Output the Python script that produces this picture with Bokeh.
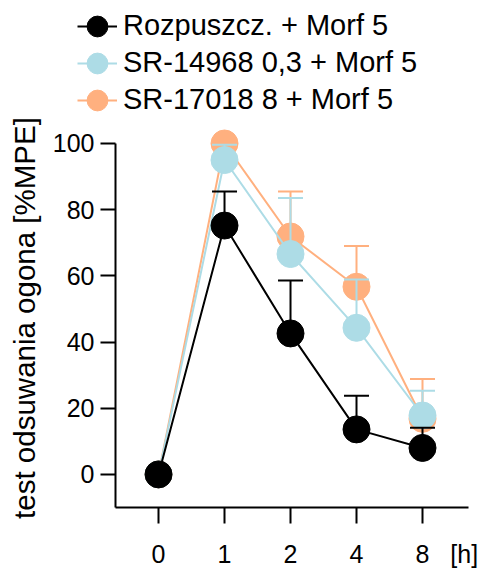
from bokeh.plotting import figure
from bokeh.layouts import column
from bokeh.models import Range1d, FixedTicker, Legend, LegendItem
from bokeh.embed import file_html
from bokeh.resources import INLINE

# ---- data ----
time_labels = ["0", "1", "2", "4", "8"]
time_unit = "[h]"
x_pos = [0, 1, 2, 3, 4]
y_ticks = [0, 20, 40, 60, 80, 100]
series_names = ["Rozpuszcz. + Morf 5", "SR-14968 0,3 + Morf 5", "SR-17018 8 + Morf 5"]
vehicle_mean = [0, 75.2, 42.6, 13.6, 8.0]
vehicle_sem = [0, 10.3, 16.0, 10.2, 6.1]
sr14968_mean = [0, 95.0, 66.6, 44.3, 17.8]
sr14968_sem = [0, 4.6, 16.9, 14.6, 7.5]
sr17018_mean = [0, 100.0, 71.9, 56.7, 16.8]
sr17018_sem = [0, 0.0, 13.6, 12.3, 12.0]
colors = ["#000000", "#ADDCE6", "#FFB07F"]

FONT = "Liberation Sans"
LEG_H = 116

means = [vehicle_mean, sr14968_mean, sr17018_mean]
sems = [vehicle_sem, sr14968_sem, sr17018_sem]

# ---------------- legend strip (own small figure) ----------------
lg = figure(width=489, height=LEG_H, output_backend="svg", toolbar_location=None,
            x_range=Range1d(1000, 1489), y_range=Range1d(0, LEG_H),
            x_axis_type=None, y_axis_type=None,
            min_border_left=0, min_border_right=0, min_border_top=0, min_border_bottom=0)
lg.outline_line_color = None
lg.xgrid.visible = False
lg.ygrid.visible = False
if hasattr(lg, "frame_align"):
    lg.frame_align = False

items = []
for i in range(3):
    c = colors[i]
    # same series drawn here only to provide the legend swatches (lies outside this strip's range)
    l_ln = lg.line(x_pos, means[i], line_color=c, line_width=2)
    l_el = lg.ellipse(x=x_pos, y=means[i], width=27, height=27,
                      width_units="screen", height_units="screen",
                      fill_color=c, line_color=c)
    items.append(LegendItem(label=series_names[i], renderers=[l_ln, l_el]))

legend = Legend(items=items, location=(77, 0), orientation="vertical",
                glyph_width=40, glyph_height=26, spacing=4, padding=0, margin=0,
                label_standoff=6, label_text_font=FONT, label_text_font_size="29px",
                label_text_color="black", border_line_color=None,
                background_fill_alpha=0)
lg.add_layout(legend)

# ---------------- main chart ----------------
p = figure(width=489, height=570 - LEG_H, output_backend="svg", toolbar_location=None,
           x_range=Range1d(-0.652, 4.697), y_range=Range1d(-10, 104.53),
           min_border_left=115, min_border_right=21, min_border_top=12,
           min_border_bottom=63)
p.outline_line_color = None
p.xgrid.visible = False
p.ygrid.visible = False
p.background_fill_color = "white"
if hasattr(p, "frame_align"):
    p.frame_align = False

# draw order: orange, blue, black (black on top)
for idx in [2, 1, 0]:
    m = means[idx]
    s = sems[idx]
    c = colors[idx]
    upper = [a + b for a, b in zip(m, s)]
    p.line(x_pos, m, line_color=c, line_width=2)
    p.segment(x0=x_pos, y0=m, x1=x_pos, y1=upper, line_color=c, line_width=2)
    p.scatter(x_pos, upper, marker="dash", size=25, line_color=c, line_width=2)
    p.scatter(x_pos, m, size=27, fill_color=c, line_color=c)

# x axis; the last tick label also carries the unit "[h]" to its right
NB = "\u00a0"
x_labels = list(time_labels)
x_labels[-1] = NB * 7 + time_labels[-1] + NB * 3 + time_unit
xa = p.xaxis[0]
xa.ticker = FixedTicker(ticks=x_pos)
xa.major_label_overrides = {x: lab for x, lab in zip(x_pos, x_labels)}
xa.major_tick_in = 0
xa.major_tick_out = 16
xa.major_label_standoff = 16
xa.minor_tick_line_color = None

# y axis
ya = p.yaxis[0]
ya.ticker = FixedTicker(ticks=y_ticks)
ya.bounds = (-10, 100)
ya.major_tick_in = 0
ya.major_tick_out = 15
ya.major_label_standoff = 6
ya.minor_tick_line_color = None
ya.axis_label = "test odsuwania ogona [%MPE]"
ya.axis_label_standoff = 9
ya.axis_label_text_font = FONT
ya.axis_label_text_font_size = "29.5px"
ya.axis_label_text_font_style = "normal"
ya.axis_label_text_color = "black"

for ax in [xa, ya]:
    ax.axis_line_width = 2
    ax.axis_line_color = "black"
    ax.major_tick_line_width = 2
    ax.major_tick_line_color = "black"
    ax.major_label_text_font = FONT
    ax.major_label_text_font_size = "25px"
    ax.major_label_text_color = "black"

layout = column(lg, p, spacing=0)
open("out.html", "w").write(file_html(layout, INLINE))
